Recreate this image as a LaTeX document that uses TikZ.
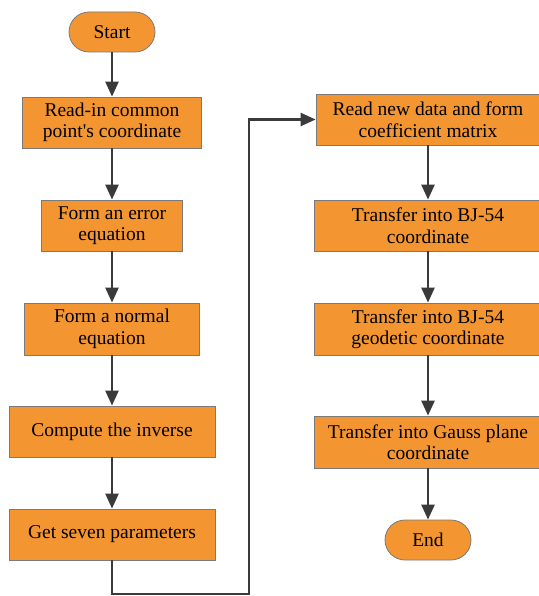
\documentclass[tikz,border=0pt]{standalone}
\usepackage{fontspec}
\setmainfont{Liberation Serif}
\newfontfamily\flowfont{Liberation Serif}
\usepackage{xcolor}
\usetikzlibrary{arrows.meta,positioning}
\definecolor{boxfill}{HTML}{F39531}
\definecolor{boxline}{HTML}{7A7A7A}
\definecolor{flowline}{HTML}{3A3A3A}
\tikzset{
  procbox/.style={draw=boxline, fill=boxfill, line width=0.8pt, align=center,
    inner sep=0pt, font=\flowfont\fontsize{19.5}{21.5}\selectfont},
  termbox/.style={procbox, rounded corners=20pt, minimum width=86pt, minimum height=40pt},
  flow/.style={-{Triangle[length=15pt,width=13pt]}, line width=2.4pt, draw=flowline},
}

\begin{document}
\begin{tikzpicture}[x=1pt, y=-1pt]
  \useasboundingbox (0,0) rectangle (538,596);
  % left column
  \node[termbox] (start) at (112,32) {Start};
  \node[procbox, minimum width=179pt, minimum height=51pt] (readin) at (112,122.5) {Read-in common\\point's coordinate};
  \node[procbox, minimum width=141pt, minimum height=51pt] (errEq) at (112,225.5) {Form an error\\equation};
  \node[procbox, minimum width=175pt, minimum height=52pt] (normEq) at (112,329) {Form a normal\\equation};
  \node[procbox, minimum width=206pt, minimum height=51pt] (inverse) at (112,431.5) {Compute the inverse};
  \node[procbox, minimum width=206pt, minimum height=51pt] (params) at (112,534.5) {Get seven parameters};
  % right column
  \node[procbox, minimum width=224pt, minimum height=51pt] (newData) at (428,119.5) {Read new data and form\\coefficient matrix};
  \node[procbox, minimum width=228pt, minimum height=51pt] (bjCoord) at (428,225.5) {Transfer into BJ-54\\coordinate};
  \node[procbox, minimum width=228pt, minimum height=52pt] (bjGeo) at (428,329) {Transfer into BJ-54\\geodetic coordinate};
  \node[procbox, minimum width=228pt, minimum height=52pt] (gauss) at (428,442) {Transfer into Gauss plane\\coordinate};
  \node[termbox] (finish) at (428,540) {End};
  % connectors
  \draw[flow] (start) -- (readin);
  \draw[flow] (readin) -- (errEq);
  \draw[flow] (errEq) -- (normEq);
  \draw[flow] (normEq) -- (inverse);
  \draw[flow] (inverse) -- (params);
  \coordinate (loopA) at (112,594);
  \coordinate (loopB) at (249,594);
  \draw[flow] (params.south) -- (loopA) -- (loopB) |- (newData.west);
  \draw[flow] (newData) -- (bjCoord);
  \draw[flow] (bjCoord) -- (bjGeo);
  \draw[flow] (bjGeo) -- (gauss);
  \draw[flow] (gauss) -- (finish);
\end{tikzpicture}
\end{document}
